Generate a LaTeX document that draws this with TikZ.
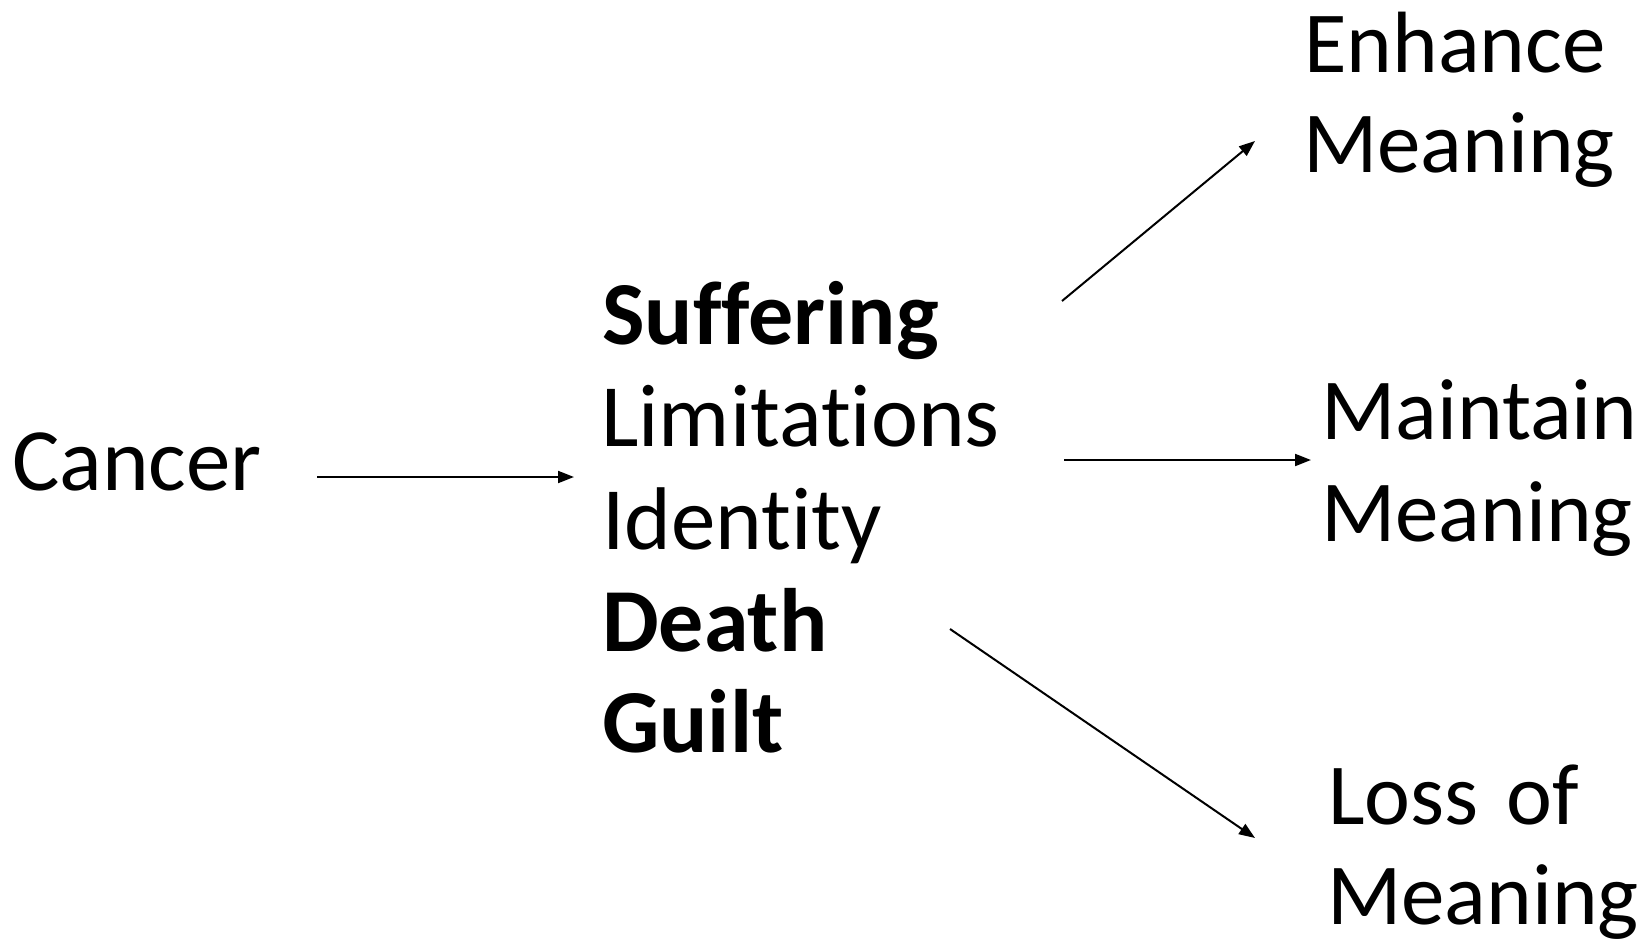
\documentclass[tikz,border=0pt]{standalone}
\usepackage{fontspec}
\setmainfont{Carlito}[Ligatures={NoCommon}]
\usetikzlibrary{arrows.meta}
\tikzset{
  lbl/.style={anchor=base west, inner sep=0pt, font=\fontsize{89}{102}\selectfont},
  rlbl/.style={anchor=base west, inner sep=0pt, font=\fontsize{87}{100}\selectfont},
  blbl/.style={lbl, font=\fontsize{90}{102}\selectfont\bfseries},
  conn/.style={line width=2pt, -{Triangle[length=16pt,width=12pt]}}
}
\begin{document}
\begin{tikzpicture}[x=1pt,y=-1pt]
\useasboundingbox (0,0) rectangle (1646,944);
\node[lbl] (cancer) at (12,490) {Cancer};
\node[blbl] (suff) at (602,344) {Suffering};
\node[lbl] (lim) at (601,446) {Limitations};
\node[lbl] (ident) at (602,549) {Identity};
\node[blbl] (death) at (602,651) {Death};
\node[blbl] (guilt) at (602,752) {Guilt};
\node[rlbl] (enh) at (1304,73) {Enhance};
\node[rlbl] (mean1) at (1303,173) {Meaning};
\node[rlbl] (maint) at (1321,439) {Maintain};
\node[rlbl] (mean2) at (1321,541) {Meaning};
\node[rlbl] (loss) at (1328,824) {Loss\hspace{0.32em}of};
\node[rlbl] (mean3) at (1327,924) {Meaning};
\coordinate (a1s) at (317,477);
\coordinate (a1e) at (574,477);
\coordinate (aus) at (1062,301);
\coordinate (aue) at (1255,141);
\coordinate (ams) at (1064,460);
\coordinate (ame) at (1311,460);
\coordinate (ads) at (950,629);
\coordinate (ade) at (1255,838);
\draw[conn] (a1s) -- (a1e);
\draw[conn] (aus) -- (aue);
\draw[conn] (ams) -- (ame);
\draw[conn] (ads) -- (ade);
\end{tikzpicture}
\end{document}
